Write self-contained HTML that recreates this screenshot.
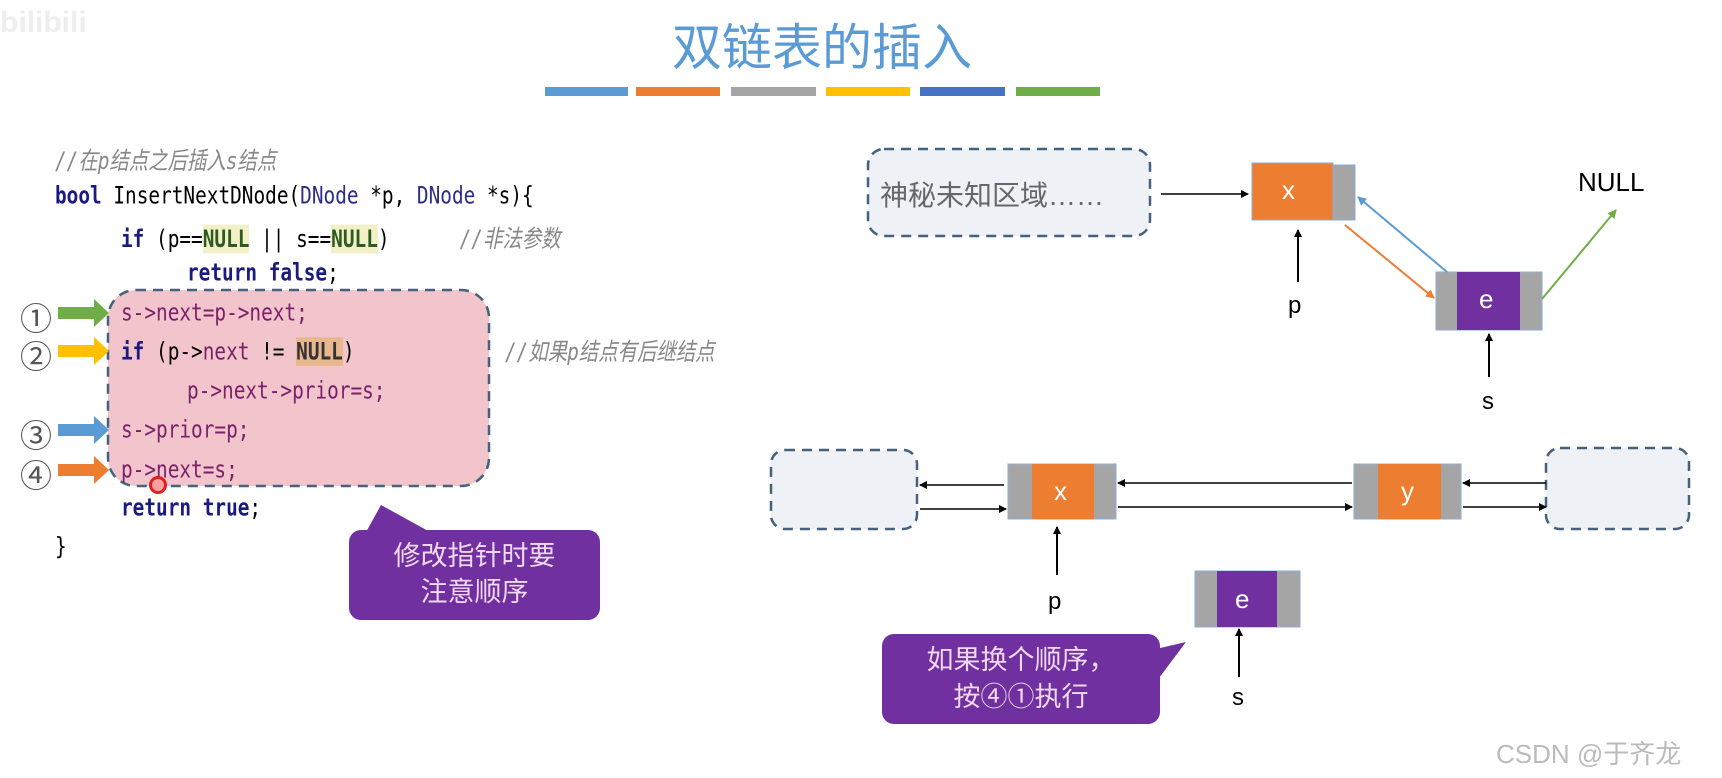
<!DOCTYPE html>
<html><head><meta charset="utf-8"><style>
body{margin:0;width:1722px;height:778px;background:#fff;position:relative;overflow:hidden;font-family:"Liberation Sans","Noto Sans CJK SC",sans-serif}
.a{position:absolute;white-space:pre}
.code{font-family:"DejaVu Sans Mono","Liberation Mono","Noto Sans CJK SC",monospace;font-size:19.4px;color:#000;transform:scaleY(1.25);transform-origin:left center}
.kw{color:#1a1a80;font-weight:bold}
.ty{color:#2d2d8a}
.pu{color:#7a1f6a}
.cm{color:#888;font-style:italic}
.nl{background:#f2f0c8;color:#2d5a1e;font-weight:bold}
</style></head><body>
<svg class="a" style="left:0;top:0" width="1722" height="778">
<defs>
<marker id="ab" markerWidth="8" markerHeight="8" refX="7" refY="4" orient="auto" markerUnits="userSpaceOnUse"><path d="M0,0L8,4L0,8z" fill="#000"/></marker>
<marker id="abl" markerWidth="9" markerHeight="9" refX="8" refY="4.5" orient="auto" markerUnits="userSpaceOnUse"><path d="M0,0L9,4.5L0,9z" fill="#5b9bd5"/></marker>
<marker id="aor" markerWidth="9" markerHeight="9" refX="8" refY="4.5" orient="auto" markerUnits="userSpaceOnUse"><path d="M0,0L9,4.5L0,9z" fill="#ed7d31"/></marker>
<marker id="agr" markerWidth="9" markerHeight="9" refX="8" refY="4.5" orient="auto" markerUnits="userSpaceOnUse"><path d="M0,0L9,4.5L0,9z" fill="#70ad47"/></marker>
</defs>
<rect x="545" y="87" width="83" height="9" fill="#5b9bd5"/>
<rect x="636" y="87" width="84" height="9" fill="#ed7d31"/>
<rect x="731" y="87" width="85" height="9" fill="#a5a5a5"/>
<rect x="826" y="87" width="84" height="9" fill="#ffc000"/>
<rect x="920" y="87" width="85" height="9" fill="#4472c4"/>
<rect x="1016" y="87" width="84" height="9" fill="#70ad47"/>
<rect x="108" y="290" width="381" height="196" rx="28" fill="#f2c4cb" stroke="#44627e" stroke-width="2.5" stroke-dasharray="10,7"/>
<g>
<path d="M58,307h36v-8l15,14l-15,14v-8h-36z" fill="#70ad47"/>
<path d="M58,345h36v-8l15,14l-15,14v-8h-36z" fill="#ffc000"/>
<path d="M58,424h36v-8l15,14l-15,14v-8h-36z" fill="#5b9bd5"/>
<path d="M58,464h36v-8l15,14l-15,14v-8h-36z" fill="#ed7d31"/>
</g>
<path d="M381,505L450,543L360,543z" fill="#7030a0"/>
<rect x="349" y="530" width="251" height="90" rx="12" fill="#7030a0"/>
<rect x="868" y="149" width="282" height="87" rx="16" fill="#eef1f5" stroke="#44627e" stroke-width="2.5" stroke-dasharray="10,7"/>
<line x1="1161" y1="194" x2="1248" y2="194" stroke="#000" stroke-width="1.5" marker-end="url(#ab)"/>
<rect x="1252" y="163" width="81" height="57" fill="#ed7d31" stroke="#8faadc"/>
<rect x="1333" y="165" width="22" height="55" fill="#a5a5a5" stroke="#8faadc"/>
<line x1="1298" y1="282" x2="1298" y2="230" stroke="#000" stroke-width="2" marker-end="url(#ab)"/>
<rect x="1436" y="272" width="106" height="58" fill="#a5a5a5" stroke="#8faadc"/>
<rect x="1457" y="272" width="63" height="58" fill="#7030a0"/>
<line x1="1489" y1="377" x2="1489" y2="334" stroke="#000" stroke-width="2" marker-end="url(#ab)"/>
<line x1="1447" y1="272" x2="1358" y2="197" stroke="#5b9bd5" stroke-width="2" marker-end="url(#abl)"/>
<line x1="1345" y1="225" x2="1434" y2="298" stroke="#ed7d31" stroke-width="2" marker-end="url(#aor)"/>
<line x1="1542" y1="299" x2="1616" y2="210" stroke="#70ad47" stroke-width="2" marker-end="url(#agr)"/>
<rect x="771" y="450" width="146" height="79" rx="14" fill="#eef1f5" stroke="#44627e" stroke-width="2.5" stroke-dasharray="10,7"/>
<rect x="1546" y="448" width="143" height="81" rx="14" fill="#eef1f5" stroke="#44627e" stroke-width="2.5" stroke-dasharray="10,7"/>
<rect x="1008" y="464" width="108" height="55" fill="#a5a5a5" stroke="#8faadc"/>
<rect x="1032" y="464" width="62" height="55" fill="#ed7d31"/>
<rect x="1354" y="464" width="107" height="55" fill="#a5a5a5" stroke="#8faadc"/>
<rect x="1378" y="464" width="63" height="55" fill="#ed7d31"/>
<g stroke="#000" stroke-width="1.5">
<line x1="1004" y1="485" x2="920" y2="485" marker-end="url(#ab)"/>
<line x1="920" y1="509" x2="1006" y2="509" marker-end="url(#ab)"/>
<line x1="1352" y1="483" x2="1118" y2="483" marker-end="url(#ab)"/>
<line x1="1118" y1="507" x2="1352" y2="507" marker-end="url(#ab)"/>
<line x1="1546" y1="483" x2="1463" y2="483" marker-end="url(#ab)"/>
<line x1="1463" y1="507" x2="1546" y2="507" marker-end="url(#ab)"/>
</g>
<line x1="1057" y1="575" x2="1057" y2="527" stroke="#000" stroke-width="2" marker-end="url(#ab)"/>
<rect x="1195" y="571" width="105" height="56" fill="#a5a5a5" stroke="#8faadc"/>
<rect x="1217" y="571" width="60" height="56" fill="#7030a0"/>
<line x1="1239" y1="677" x2="1239" y2="629" stroke="#000" stroke-width="2" marker-end="url(#ab)"/>
<path d="M1186,642L1150,690L1130,655z" fill="#7030a0"/>
<rect x="882" y="634" width="278" height="90" rx="12" fill="#7030a0"/>
</svg>

<div class="a" style="left:672px;top:8px;font-size:50px;color:#5b9bd5">双链表的插入</div>
<div class="a" style="left:0;top:6px;font-size:30px;color:#eee;font-weight:bold">bilibili</div>

<div class="a code cm" style="left:55px;top:144px">//在p结点之后插入s结点</div>
<div class="a code" style="left:55px;top:184px"><span class="kw">bool</span> InsertNextDNode(<span class="ty">DNode</span> *p, <span class="ty">DNode</span> *s){</div>
<div class="a code" style="left:121px;top:222px"><span class="kw">if</span> (p==<span class="nl">NULL</span> || s==<span class="nl">NULL</span>)      <span class="cm">//非法参数</span></div>
<div class="a code" style="left:187px;top:261px"><span class="kw">return false</span>;</div>
<div class="a code pu" style="left:121px;top:301px">s-&gt;next=p-&gt;next;</div>
<div class="a code" style="left:121px;top:340px"><span class="kw">if</span> (p-&gt;<span class="pu">next</span> != <span class="nl" style="background:#e8b78e;color:#333">NULL</span>)</div>
<div class="a code cm" style="left:505px;top:335px">//如果p结点有后继结点</div>
<div class="a code pu" style="left:187px;top:379px">p-&gt;next-&gt;prior=s;</div>
<div class="a code pu" style="left:121px;top:418px">s-&gt;prior=p;</div>
<div class="a code pu" style="left:121px;top:458px">p-&gt;next=s;</div>
<div class="a code" style="left:121px;top:496px"><span class="kw">return true</span>;</div>
<div class="a code" style="left:55px;top:535px">}</div>
<div class="a" style="left:20px;top:294px;font-size:32px;color:#555">①</div>
<div class="a" style="left:20px;top:332px;font-size:32px;color:#555">②</div>
<div class="a" style="left:20px;top:411px;font-size:32px;color:#555">③</div>
<div class="a" style="left:20px;top:451px;font-size:32px;color:#555">④</div>
<div class="a" style="left:149px;top:476px;width:12px;height:12px;border-radius:50%;border:3px solid #e02020;background:#f8a0a0"></div>

<div class="a" style="left:349px;top:538px;width:251px;text-align:center;color:#f0d8f0;font-size:27px;line-height:36px">修改指针时要
注意顺序</div>

<div class="a" style="left:880px;top:174px;font-size:28px;color:#666">神秘未知区域……</div>
<div class="a" style="left:1282px;top:175px;font-size:26px;color:#fff">x</div>
<div class="a" style="left:1288px;top:292px;font-size:24px;color:#000">p</div>
<div class="a" style="left:1479px;top:284px;font-size:26px;color:#fff">e</div>
<div class="a" style="left:1482px;top:388px;font-size:24px;color:#000">s</div>
<div class="a" style="left:1578px;top:167px;font-size:26px;color:#000">NULL</div>

<div class="a" style="left:1054px;top:476px;font-size:26px;color:#fff">x</div>
<div class="a" style="left:1401px;top:476px;font-size:26px;color:#fff">y</div>
<div class="a" style="left:1048px;top:588px;font-size:24px;color:#000">p</div>
<div class="a" style="left:1235px;top:584px;font-size:26px;color:#fff">e</div>
<div class="a" style="left:1232px;top:684px;font-size:24px;color:#000">s</div>

<div class="a" style="left:882px;top:642px;width:278px;text-align:center;color:#f0d8f0;font-size:27px;line-height:37px">如果换个顺序，
按④①执行</div>

<div class="a" style="left:1496px;top:734px;font-size:26px;color:#bbb">CSDN @于齐龙</div>
</body></html>
